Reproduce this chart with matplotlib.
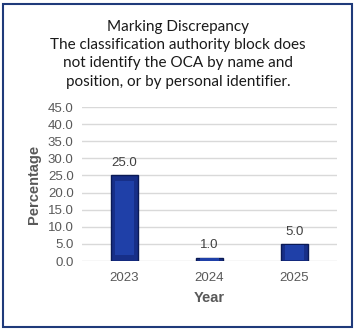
import matplotlib.pyplot as plt
from matplotlib.patches import Rectangle

# Data
years = ["2023", "2024", "2025"]
percentages = [25.0, 1.0, 5.0]
yticks = [0, 5, 10, 15, 20, 25, 30, 35, 40, 45]

title = ("Marking Discrepancy\n"
         "The classification authority block does\n"
         "not identify the OCA by name and\n"
         "position, or by personal identifier.")

plt.rcParams["font.family"] = "Liberation Sans"

W, H = 356, 331
fig = plt.figure(figsize=(W / 100, H / 100), dpi=100)
ax = fig.add_axes([82 / W, 1 - 261 / H, (337 - 82) / W, (261 - 107) / H])

x = range(len(years))
ax.bar(x, percentages, width=0.31, color="#172f88",
       edgecolor="#0a1a55", linewidth=1.0, zorder=3)
# inner highlight to suggest the bevel
ax.bar(x, [p * 0.86 for p in percentages], bottom=[p * 0.07 for p in percentages],
       width=0.22, color="#1f40a8", linewidth=0, zorder=4)

for xi, p in zip(x, percentages):
    ax.text(xi, p + 1.8, f"{p:.1f}", ha="center", va="bottom",
            fontsize=9.5, color="#404040")

ax.set_xlim(-0.5, 2.5)
ax.set_ylim(0, 45)
ax.set_yticks(yticks)
ax.set_yticklabels([f"{v:.1f}" for v in yticks])
ax.set_xticks(list(x))
ax.set_xticklabels(years)
ax.tick_params(length=0, labelsize=9.5, labelcolor="#595959", pad=6)
ax.tick_params(axis="x", pad=8)
ax.grid(axis="y", color="#d9d9d9", linewidth=1.0, zorder=0)
for s in ax.spines.values():
    s.set_visible(False)

ax.set_ylabel("Percentage", fontsize=10.5, fontweight="bold", color="#595959", labelpad=5)
ax.set_xlabel("Year", fontsize=10.5, fontweight="bold", color="#595959", labelpad=5)

fig.text(178 / W, 1 - 20 / H, title, ha="center", va="top", fontsize=11,
         color="#1a1a1a", linespacing=1.38, family="Lato")

fig.patches.append(Rectangle((3 / W, 4 / H), 349 / W, 323 / H, transform=fig.transFigure,
                             fill=False, edgecolor="#1f3a7a", linewidth=1.5))

fig.savefig("out.png", dpi=100)
